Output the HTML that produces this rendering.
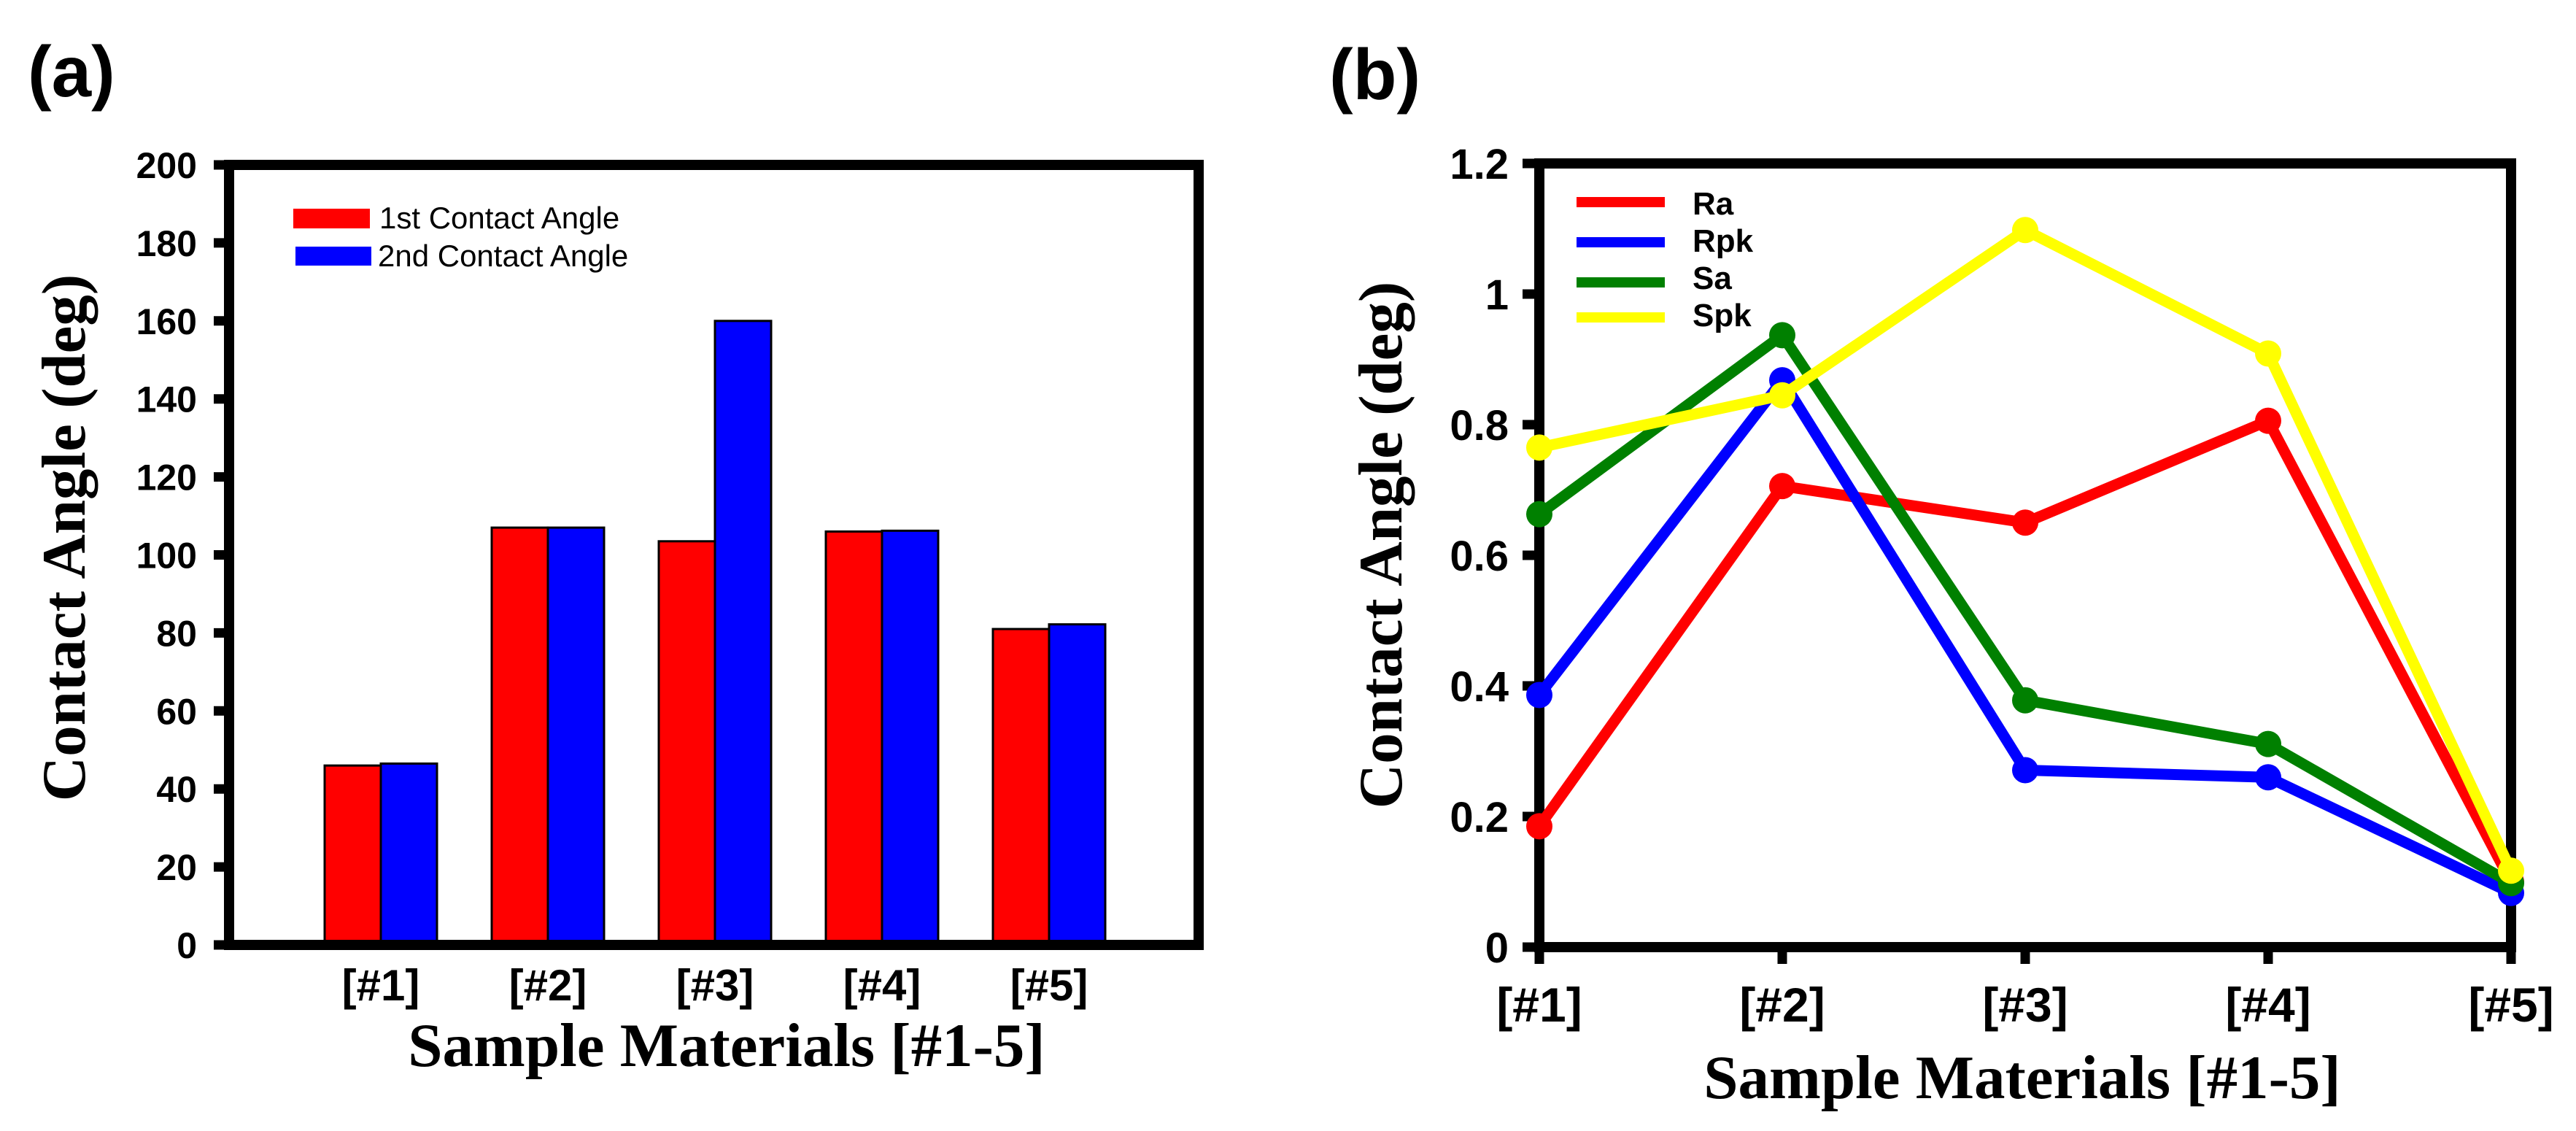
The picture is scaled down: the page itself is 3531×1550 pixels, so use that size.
<!DOCTYPE html>
<html><head><meta charset="utf-8"><style>
html,body{margin:0;padding:0;background:#fff;}
svg{display:block;}
.tk{font-family:"Liberation Sans","Noto Sans CJK KR",sans-serif;font-weight:bold;}
.ttl{font-family:"Liberation Serif",serif;font-weight:bold;}
</style></head><body>
<svg id="fig" width="3531" height="1550" viewBox="0 0 3531 1550" xmlns="http://www.w3.org/2000/svg">
<rect width="3531" height="1550" fill="#fff"/>
<text x="38" y="132" class="tk" font-size="98">(a)</text>
<text x="1822" y="136" class="tk" font-size="98">(b)</text>
<g id="chartA"></g>
<g id="chartB"></g>
</svg>
<script>
const barCats = ["[#1]","[#2]","[#3]","[#4]","[#5]"];
const firstAngle = [46, 107, 103.5, 106, 81];
const secondAngle = [46.5, 107, 160, 106.2, 82.2];
const barTicks = [0,20,40,60,80,100,120,140,160,180,200];

const lineCats = ["[#1]","[#2]","[#3]","[#4]","[#5]"];
const raVals = [0.185, 0.706, 0.650, 0.806, 0.10];
const rpkVals = [0.386, 0.868, 0.271, 0.260, 0.083];
const saVals = [0.663, 0.937, 0.378, 0.311, 0.098];
const spkVals = [0.765, 0.845, 1.098, 0.909, 0.117];
const lineTicks = [0,0.2,0.4,0.6,0.8,1,1.2];
const lineTickLabels = ["0","0.2","0.4","0.6","0.8","1","1.2"];

const NS="http://www.w3.org/2000/svg";
function mk(parent, tag, attrs, txt){
  const e=document.createElementNS(NS,tag);
  for(const k in attrs) e.setAttribute(k,attrs[k]);
  if(txt!==undefined) e.textContent=txt;
  parent.appendChild(e); return e;
}

// ---------- Chart A ----------
const A=document.getElementById('chartA');
const aL=314,aR=1643,aT=226,aB=1295;
const ay=v=>aB-(v-0)/(200-0)*(aB-aT);
const ax=i=>522+229*i;
const bw=77;
barCats.forEach((c,i)=>{
  const r=mk(A,'rect',{x:ax(i)-bw,y:ay(firstAngle[i]),width:bw,height:aB-ay(firstAngle[i]),fill:'#ff0000',stroke:'#000','stroke-width':3});
  
  
  const b=mk(A,'rect',{x:ax(i),y:ay(secondAngle[i]),width:bw,height:aB-ay(secondAngle[i]),fill:'#0000ff',stroke:'#000','stroke-width':3});
  
  
  const t=mk(A,'text',{x:ax(i),y:1371,'text-anchor':'middle','font-size':60,class:'tk'},c);
  
  
});
const fa=mk(A,'rect',{x:aL,y:aT,width:aR-aL,height:aB-aT,fill:'none',stroke:'#000','stroke-width':14});


barTicks.forEach(v=>{
  const l=mk(A,'line',{x1:293,x2:aL,y1:ay(v),y2:ay(v),stroke:'#000','stroke-width':13});
  
  
  const t=mk(A,'text',{x:270,y:ay(v)+18,'text-anchor':'end','font-size':50,class:'tk'},String(v));
  
  
});
let e;
e=mk(A,'rect',{x:402,y:286,width:105,height:27,fill:'#ff0000'});


e=mk(A,'rect',{x:405,y:338,width:104,height:26,fill:'#0000ff'});


e=mk(A,'text',{x:520,y:313,'font-size':42,'font-family':'Liberation Sans, sans-serif'},'1st Contact Angle');


e=mk(A,'text',{x:518,y:365,'font-size':42,'font-family':'Liberation Sans, sans-serif'},'2nd Contact Angle');


e=mk(A,'text',{x:996,y:1461,'text-anchor':'middle','font-size':85,class:'ttl'},'Sample Materials [#1-5]');


e=mk(A,'text',{x:0,y:0,'text-anchor':'middle','font-size':85,class:'ttl',transform:'translate(116,737) rotate(-90)'},'Contact Angle (deg)');



// ---------- Chart B ----------
const B=document.getElementById('chartB');
const bL=2110,bR=3442,bT=224,bB=1298;
const by=v=>bB-(v-0)/(1.2-0)*(bB-bT);
const bx=i=>bL+(bR-bL)/4*i;
const fb=mk(B,'rect',{x:bL,y:bT,width:bR-bL,height:bB-bT,fill:'none',stroke:'#000','stroke-width':14});


lineTicks.forEach((v,k)=>{
  const l=mk(B,'line',{x1:2087,x2:bL,y1:by(v),y2:by(v),stroke:'#000','stroke-width':13});
  
  
  const t=mk(B,'text',{x:2068,y:by(v)+21,'text-anchor':'end','font-size':58,class:'tk'},lineTickLabels[k]);
  
  
});
lineCats.forEach((c,i)=>{
  const l=mk(B,'line',{x1:bx(i),x2:bx(i),y1:bB,y2:1321,stroke:'#000','stroke-width':13});
  
  
  const t=mk(B,'text',{x:bx(i),y:1400,'text-anchor':'middle','font-size':66,class:'tk'},c);
  
  
});
const series=[["ra",raVals,"#ff0000"],["rpk",rpkVals,"#0000ff"],["sa",saVals,"#008000"],["spk",spkVals,"#ffff00"]];
series.forEach(([nm,vals,col])=>{
  const g=mk(B,'g',{});
  
  
  const pts=vals.map((v,i)=>bx(i)+','+by(v)).join(' ');
  const pl=mk(g,'polyline',{points:pts,fill:'none',stroke:col,'stroke-width':15,'stroke-linejoin':'round'});
  
  
  vals.forEach((v,i)=>{
    const c=mk(g,'circle',{cx:bx(i),cy:by(v),r:18,fill:col});
    
    
  });
});
const legNames=["Ra","Rpk","Sa","Spk"], legCols=["#ff0000","#0000ff","#008000","#ffff00"];
const legY=[277,332,387,435], legTY=[294,345,396,447];
legNames.forEach((n,k)=>{
  const l=mk(B,'line',{x1:2161,x2:2282,y1:legY[k],y2:legY[k],stroke:legCols[k],'stroke-width':14});
  
  
  const t=mk(B,'text',{x:2320,y:legTY[k],'font-size':44,class:'tk'},n);
  
  
});
e=mk(B,'text',{x:2772,y:1505,'text-anchor':'middle','font-size':85,class:'ttl'},'Sample Materials [#1-5]');


e=mk(B,'text',{x:0,y:0,'text-anchor':'middle','font-size':85,class:'ttl',transform:'translate(1921,747) rotate(-90)'},'Contact Angle (deg)');


</script>
</body></html>
